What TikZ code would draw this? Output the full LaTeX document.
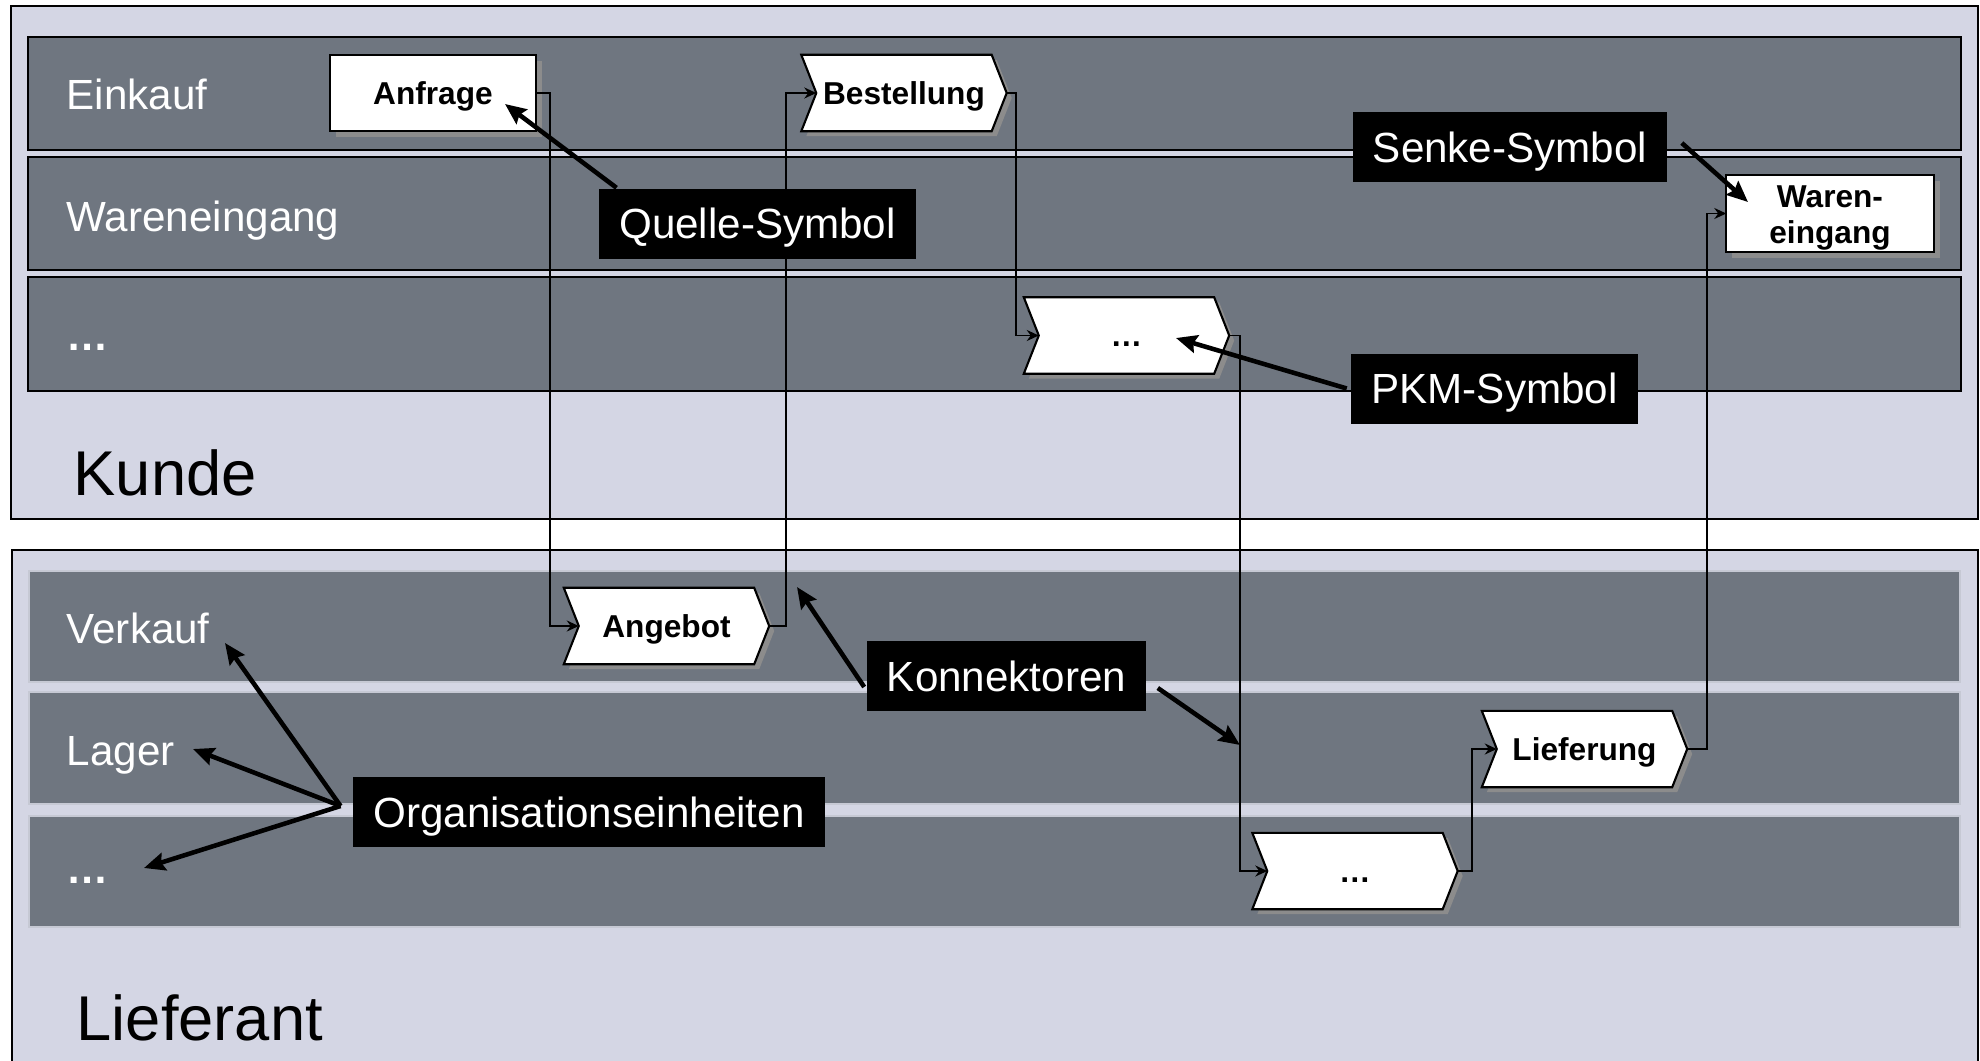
\documentclass[tikz,border=0pt]{standalone}
\usepackage{fontspec}
\setmainfont{Liberation Sans}
\usetikzlibrary{calc,arrows.meta}

\definecolor{poolbg}{RGB}{212,214,228}
\definecolor{lanebg}{RGB}{111,118,128}
\definecolor{laneedge}{RGB}{198,201,212}
\definecolor{shadowc}{RGB}{140,140,140}

\pgfdeclarelayer{lanes}
\pgfdeclarelayer{shapes}
\pgfdeclarelayer{top}
\pgfsetlayers{lanes,shapes,main,top}

\tikzset{
  pool/.style={fill=poolbg, draw=black, line width=0.6pt},
  laneK/.style={fill=lanebg, draw=black, line width=0.5pt},
  laneL/.style={fill=lanebg, draw=laneedge, line width=0.6pt},
  lanelabel/.style={anchor=west, text=white, inner sep=0pt,
    font=\fontsize{12}{14}\selectfont, text height=8.6pt, text depth=0pt},
  poollabel/.style={anchor=west, text=black, inner sep=0pt,
    font=\fontsize{18}{21}\selectfont, text height=12.9pt, text depth=0pt},
  callout/.style={fill=black, text=white, inner xsep=2mm, inner ysep=0pt,
    minimum height=7mm, font=\fontsize{12}{14}\selectfont,
    text height=8.6pt, text depth=0pt},
  proc/.style={rectangle, inner sep=0pt, minimum width=20.4mm, minimum height=7.5mm,
    font=\bfseries\fontsize{9}{10}\selectfont, text height=6.5pt, text depth=0pt},
  wbox/.style={rectangle, inner sep=0pt, minimum width=20.6mm, minimum height=7.5mm,
    font=\bfseries\fontsize{9}{10}\selectfont, align=center,
    text height=17pt, text depth=0.2pt},
  procedge/.style={fill=white, draw=black, line width=0.6pt},
  flow/.style={draw=black, line width=0.5pt, -{Stealth[length=1.2mm,width=1.1mm]}},
  hint/.style={draw=black, line width=1.3pt, -{Stealth[length=2.1mm,width=1.8mm,inset=0.3mm]}}
}

% process step drawn as a chevron with a drop shadow
\newcommand\procchevron[1]{%
  \begin{pgfonlayer}{shapes}
    \fill[shadowc] ($(#1.north west)+(5,5)$) -- ($(#1.north east)+(-10,5)$) -- ($(#1.east)+(5,5)$)
      -- ($(#1.south east)+(-10,5)$) -- ($(#1.south west)+(5,5)$) -- ($(#1.west)+(20,5)$) -- cycle;
    \filldraw[procedge] (#1.north west) -- ($(#1.north east)+(-15,0)$) -- (#1.east)
      -- ($(#1.south east)+(-15,0)$) -- (#1.south west) -- ($(#1.west)+(15,0)$) -- cycle;
  \end{pgfonlayer}}
% source / sink drawn as a plain box with a drop shadow
\newcommand\procrect[1]{%
  \begin{pgfonlayer}{shapes}
    \fill[shadowc] ($(#1.north west)+(6,6)$) rectangle ($(#1.south east)+(6,6)$);
    \filldraw[procedge] (#1.north west) rectangle (#1.south east);
  \end{pgfonlayer}}

\begin{document}
\begin{tikzpicture}[x=0.1mm,y=-0.1mm]
\useasboundingbox (0,0) rectangle (1980,1061);

% pools and lanes
\begin{pgfonlayer}{lanes}
  \fill[white] (0,0) rectangle (1980,1061);
  \path[pool] (11,6) rectangle (1978,519);
  \path[laneK] (28,37) rectangle (1961,150);
  \path[laneK] (28,157) rectangle (1961,270);
  \path[laneK] (28,277) rectangle (1961,391);
  \path[pool] (12,550) rectangle (1978,1080);
  \path[laneL] (29,571) rectangle (1960,682);
  \path[laneL] (29,692) rectangle (1960,804);
  \path[laneL] (29,816) rectangle (1960,927);
\end{pgfonlayer}

% lane and pool labels
\node[lanelabel] (lab-ek) at (66,94) {Einkauf};
\node[lanelabel] (lab-we) at (66,216) {Wareneingang};
\node[lanelabel] (lab-k3) at (66,335) {\bfseries …};
\node[lanelabel] (lab-vk) at (66,628) {Verkauf};
\node[lanelabel] (lab-lg) at (66,750) {Lager};
\node[lanelabel] (lab-l3) at (66,868) {\bfseries …};
\node[poollabel] (lab-kunde) at (73,473) {Kunde};
\node[poollabel] (lab-lief) at (76,1018) {Lieferant};

% process steps
\node[proc] (anf) at (433,93) {Anfrage};
\node[proc] (bst) at (904,93) {Bestellung};
\node[proc] (dk) at (1126.5,335.5) {…};
\node[proc] (ang) at (666.5,626) {Angebot};
\node[proc] (lief) at (1584.5,749) {Lieferung};
\node[proc] (dl) at (1355,871) {…};
\node[wbox] (we) at (1830,213.5) {Waren-\\eingang};

\procrect{anf}
\procchevron{bst}
\procchevron{dk}
\procchevron{ang}
\procchevron{lief}
\procchevron{dl}
\procrect{we}

% control flow
\draw[flow] (anf.east) -- ++(14,0) |- ($(ang.west)+(15,0)$);
\draw[flow] (ang.east) -- ++(17,0) |- ($(bst.west)+(15,0)$);
\draw[flow] (bst.east) -- ++(9,0) |- ($(dk.west)+(15,0)$);
\draw[flow] (dk.east) -- ++(11,0) |- ($(dl.west)+(15,0)$);
\draw[flow] (dl.east) -- ++(14,0) |- ($(lief.west)+(15,0)$);
\draw[flow] (lief.east) -- ++(20,0) |- (we.west);

% explanatory callouts
\begin{pgfonlayer}{top}
  \node[callout] (c-quelle) at (757.5,223.5) {Quelle-Symbol};
  \node[callout] (c-senke) at (1510,147) {Senke-Symbol};
  \node[callout] (c-pkm) at (1494.5,388.5) {PKM-Symbol};
  \node[callout] (c-konn) at (1006.5,676) {Konnektoren};
  \node[callout] (c-org) at (589,812) {Organisationseinheiten};
\end{pgfonlayer}

\coordinate (t-quelle) at (505,104);
\coordinate (t-senke) at (1748,202);
\coordinate (t-pkm) at (1176,338);
\coordinate (t-konn1) at (797,587);
\coordinate (t-konn2) at (1240,745);
\coordinate (t-vk) at (225,643);
\coordinate (t-lg) at (193,749);
\coordinate (t-l3) at (144,868);
\coordinate (o-org) at ([xshift=-1.2mm,yshift=0.6mm]c-org.west);

\draw[hint] ([xshift=1.8mm]c-quelle.north west) -- (t-quelle);
\draw[hint] ([xshift=1.4mm,yshift=0.4mm]c-senke.east) -- (t-senke);
\draw[hint] ([xshift=-0.4mm]c-pkm.west) -- (t-pkm);
\draw[hint] ([xshift=-0.2mm,yshift=-1.1mm]c-konn.west) -- (t-konn1);
\draw[hint] ([xshift=1.1mm,yshift=-1.2mm]c-konn.east) -- (t-konn2);
\draw[hint] (o-org) -- (t-vk);
\draw[hint] (o-org) -- (t-lg);
\draw[hint] (o-org) -- (t-l3);
\end{tikzpicture}
\end{document}
